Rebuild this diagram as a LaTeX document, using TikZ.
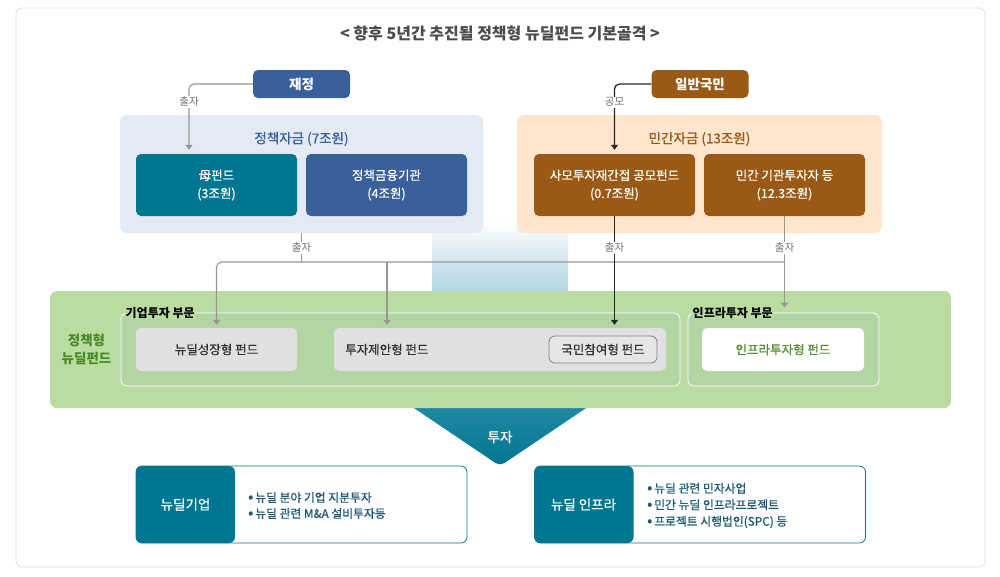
\documentclass[tikz,border=0pt]{standalone}
\usepackage{fontspec}
\setmainfont{Noto Sans CJK KR}
\newfontfamily\med{Noto Sans CJK KR}[FakeBold=0.6]
\usetikzlibrary{arrows.meta,calc}
\definecolor{cteal}{RGB}{0,118,145}
\definecolor{cblue}{RGB}{58,96,156}
\definecolor{cbrown}{RGB}{154,89,20}
\definecolor{cltblue}{RGB}{227,234,244}
\definecolor{cpeach}{RGB}{253,230,205}
\definecolor{cgreen}{RGB}{186,220,160}
\definecolor{cgreenin}{RGB}{179,212,163}
\definecolor{cgrayfill}{RGB}{224,224,224}
\definecolor{cline}{RGB}{150,150,150}
\definecolor{cdkgreen}{RGB}{72,138,40}
\definecolor{cinfra}{RGB}{88,140,50}
\definecolor{cbullet}{RGB}{28,88,115}
\definecolor{cgradb}{RGB}{176,213,226}
\definecolor{cfunt}{RGB}{38,140,166}
\newcommand{\fsz}[2]{\fontsize{#1}{#2}\selectfont}
\newcommand{\bld}{\rmfamily\bfseries}
\newcommand{\bul}{{\fontsize{15}{16}\selectfont •}\,}
\begin{document}
\begin{tikzpicture}[x=1pt,y=-1pt, font=\med\fsz{12.5}{14},
  conn/.style={draw=cline, line width=1.1pt},
  garrow/.style={conn, -{Triangle[width=7pt,length=5pt]}},
  barrow/.style={draw=black!85, line width=1.3pt, -{Triangle[width=7pt,length=5pt]}},
  lab/.style={fill=white, inner sep=1pt, text=black!55, font=\rmfamily\fsz{10.5}{12}},
  fundbox/.style={rounded corners=5pt, align=center, text=white, minimum width=161pt, minimum height=62pt, inner sep=0pt, font=\med\fsz{12.5}{18}},
  headbox/.style={rounded corners=5pt, text=white, minimum width=97pt, minimum height=28pt, inner sep=0pt, font=\bld\fsz{13.5}{15}},
  container/.style={rounded corners=7pt, inner sep=0pt},
  sector/.style={draw=white, line width=0.8pt, fill=cgreenin, rounded corners=6pt, inner sep=0pt, minimum height=73pt},
  sectitle/.style={fill=cgreen, inner sep=0.5pt, anchor=west, font=\bld\fsz{12}{13}},
  smallfund/.style={rounded corners=5pt, inner sep=0pt, minimum height=43pt, text=black!80},
  result/.style={draw=cteal, line width=0.8pt, fill=white, rounded corners=6pt, minimum width=331pt, minimum height=77pt, inner sep=0pt,
    path picture={\fill[cteal] (path picture bounding box.north west) rectangle ($(path picture bounding box.south west)+(99,0)$);}},
  bullets/.style={anchor=west, align=left, text=cbullet, inner sep=0pt}
]
\useasboundingbox (0,0) rectangle (1000,576);
\draw[draw=black!13, line width=0.8pt, rounded corners=6pt] (16,8) rectangle (985,567);
\node[text=black!70, font=\bld\fsz{16}{17}] (title) at (500,33) {< 향후 5년간 추진될 정책형 뉴딜펀드 기본골격 >};

% background gradient and funnel
\shade[top color=white, bottom color=cgradb] (432,222) rectangle (568,291);
\shade[top color=cfunt, bottom color=cteal, rounded corners=5pt] (399,398) -- (601,398) -- (500,466) -- cycle;

% top left
\node[container, fill=cltblue, minimum width=363pt, minimum height=118pt] (pol) at (301.5,174) {};
\node[text=cblue, font=\med\fsz{13.5}{15}] (polt) at (301.5,139) {정책자금 (7조원)};
\node[fundbox, fill=cteal] (mo) at (216.5,185) {母펀드\\(3조원)};
\node[fundbox, fill=cblue] (pfi) at (386.5,185) {정책금융기관\\(4조원)};
\node[headbox, fill=cblue] (jj) at (301.5,84) {재정};

% top right
\node[container, fill=cpeach, minimum width=365pt, minimum height=118pt] (priv) at (699.5,174) {};
\node[text=cbrown, font=\med\fsz{13.5}{15}] (privt) at (699.5,139) {민간자금 (13조원)};
\node[fundbox, fill=cbrown] (pe) at (614.5,185) {사모투자재간접 공모펀드\\(0.7조원)};
\node[fundbox, fill=cbrown] (inst) at (784.5,185) {민간 기관투자자 등\\(12.3조원)};
\node[headbox, fill=cbrown] (pub) at (700,84) {일반국민};

% green band
\node[container, fill=cgreen, minimum width=901pt, minimum height=117pt] (green) at (500.5,349.5) {};
\node[text=cdkgreen, font=\bld\fsz{13.5}{18}, align=center] (glab) at (86.5,349) {정책형\\뉴딜펀드};
\node[sector, minimum width=559pt] (corp) at (400.5,349.5) {};
\node[sectitle] (corpt) at (125,313) {기업투자 부문};
\node[sector, minimum width=191pt] (infra) at (783.5,349.5) {};
\node[sectitle] (infrat) at (692,313) {인프라투자 부문};
\node[smallfund, fill=cgrayfill, minimum width=161pt] (ndg) at (216.5,349.5) {뉴딜성장형 펀드};
\node[smallfund, fill=cgrayfill, minimum width=332pt] (tip) at (500,349.5) {};
\node[anchor=west, inner sep=0pt, text=black!80] (tipt) at (345,349.5) {투자제안형 펀드};
\node[draw=black!50, line width=0.8pt, fill={rgb,255:red,230;green,230;blue,230}, rounded corners=6pt, minimum width=108pt, minimum height=27pt, inner sep=0pt, text=black!80] (kmc) at (603,349.5) {국민참여형 펀드};
\node[smallfund, fill=white, minimum width=162pt, text=cinfra] (ift) at (783,349.5) {인프라투자형 펀드};

% funnel label
\node[text=white, font=\med\fsz{13.5}{15}] (inv) at (500,437) {투자};

% results
\node[result] (ndc) at (301.5,504.5) {};
\node[text=white, font=\med\fsz{13.5}{15}] (ndct) at (185.5,504.5) {뉴딜기업};
\node[bullets, font=\med\fsz{11.8}{16}] (ndcb) at (248,505.5) {\bul 뉴딜 분야 기업 지분투자\\\bul 뉴딜 관련 M\&A 설비투자등};
\node[result] (ndi) at (700,504.5) {};
\node[text=white, font=\med\fsz{13.5}{15}] (ndit) at (583.5,504.5) {뉴딜 인프라};
\node[bullets, font=\med\fsz{11.8}{16.5}] (ndib) at (647,505.5) {\bul 뉴딜 관련 민자사업\\\bul 민간 뉴딜 인프라프로젝트\\\bul 프로젝트 시행법인(SPC) 등};

% connectors
\coordinate (jn) at (784.5,262);
\coordinate (tipin) at (387,325);
\draw[garrow, rounded corners=5pt] (jj.west) -| ($(mo.north)+(-27.5,-4)$);
\node[lab] at (189,102) {출자};
\draw[barrow, rounded corners=5pt] (pub.west) -| ($(pe.north)+(0,-4)$);
\node[lab] at (614.5,102) {공모};

\draw[conn] (pol.south) -- (pol.south |- jn);
\draw[garrow, rounded corners=5pt] (jn) -| ($(ndg.north)+(0,-3)$);
\draw[garrow] (tipin |- jn) -- (tipin);
\draw[garrow] (inst.south) -- ($(inst.south |- infra.north)+(0,-5)$);
\draw[barrow] (pe.south) -- ($(pe.south |- tip.north)+(0,-3)$);
\node[lab] at (pol.south |- 0,248) {출자};
\node[lab] at (pe.south |- 0,248) {출자};
\node[lab] at (inst.south |- 0,248) {출자};
\end{tikzpicture}
\end{document}
